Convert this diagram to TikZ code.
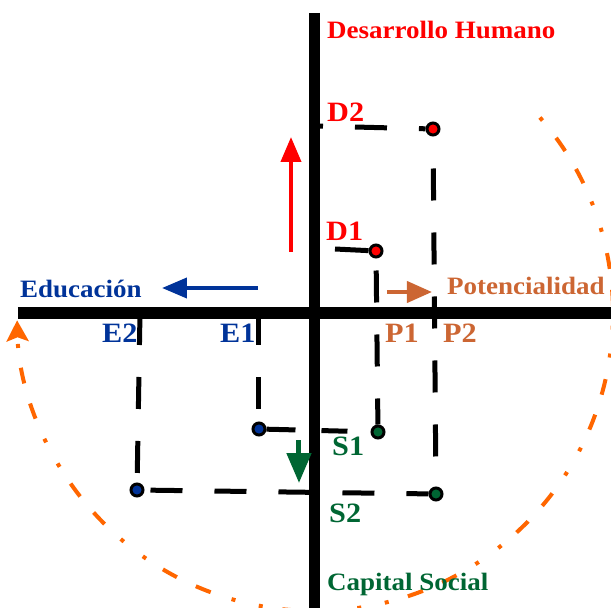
\documentclass[tikz,border=0pt]{standalone}
\usepackage{fontspec}
\setmainfont{Liberation Serif}[FakeStretch=1.08]
\usetikzlibrary{arrows.meta}
\definecolor{rojo}{RGB}{255,0,0}
\definecolor{azul}{RGB}{0,51,153}
\definecolor{verde}{RGB}{0,102,51}
\definecolor{cobre}{RGB}{204,102,51}
\definecolor{naranja}{RGB}{255,102,0}
\begin{document}
\begin{tikzpicture}
[
x=1pt, y=1pt,
eje/.style={line width=11pt},
guia/.style={line width=5pt, dash pattern=on 32pt off 32pt},
tramo/.style={line width=5pt},
punto/.style={circle, draw=black, line width=3pt, minimum size=12pt, inner sep=0pt},
etiq/.style={anchor=base west, inner sep=0pt, font=\bfseries\fontsize{28}{30}\selectfont},
titulo/.style={anchor=base west, inner sep=0pt, font=\bfseries\fontsize{25}{28}\selectfont},
flecha/.style={line width=4pt, -{Triangle[width=20pt,length=25pt]}},
arco/.style={naranja, line width=4pt,
  dash pattern=on 16pt off 21pt on 16pt off 20pt on 4pt off 24pt on 4pt off 22pt,
  dash phase=101pt,
  -{Stealth[width=22pt,length=21pt,inset=4pt]}},
]
\useasboundingbox (-315,-295) rectangle (296,313);

\coordinate (ytop) at (0,300);
\coordinate (ybot) at (0,-295);
\coordinate (xizq) at (-297,0);
\coordinate (xder) at (296,0);

\node (d2) [punto, fill=rojo]  at (118,184)   {};
\node (d1) [punto, fill=rojo]  at (61,62)     {};
\node (s1) [punto, fill=verde] at (63,-119)   {};
\node (s2) [punto, fill=verde] at (121,-181)  {};
\node (e1) [punto, fill=azul]  at (-56,-116)  {};
\node (e2) [punto, fill=azul]  at (-178,-177) {};

\coordinate (pd2) at (0,187);
\coordinate (pd1) at (20,64);
\coordinate (pe1) at (-56,0);
\coordinate (pe2) at (-175,0);

\draw [guia]                  (pe2) -- (e2);
\draw [guia]                  (pe1) -- (e1);
\draw [guia, dash phase=58pt] (e2)  -- (s2);
\draw [guia, dash phase=24pt] (pd2) -- (d2);
\draw [guia, dash phase=32pt] (d2)  -- (s2);
\draw [guia, dash phase=52pt] (d1)  -- (s1);
\draw [tramo]                 (pd1) -- (d1);
\draw [tramo, dash pattern=on 29pt off 26pt on 26pt off 60pt] (e1) -- (s1);

\draw [eje] (ytop) -- (ybot);
\draw [eje] (xizq) -- (xder);

\coordinate (r0) at (-24,61);
\coordinate (r1) at (-24,176);
\coordinate (b0) at (-57,25);
\coordinate (b1) at (-153,25);
\coordinate (c0) at (72,21);
\coordinate (c1) at (117,21);
\coordinate (v0) at (-16,-127);
\coordinate (v1) at (-16,-170);
\draw [flecha, rojo]  (r0) -- (r1);
\draw [flecha, azul]  (b0) -- (b1);
\draw [flecha, cobre, -{Triangle[width=21pt,length=25pt]}] (c0) -- (c1);
\draw [flecha, verde, line width=5pt, -{Triangle[width=24pt,length=30pt]}] (v0) -- (v1);

\coordinate (aini) at (41:298pt);
\draw [arco] (aini) arc [start angle=41, end angle=-178.6, radius=298pt];

\node (tdh) [titulo, text=rojo]  at (12,274)  {Desarrollo Humano};
\node (tcs) [titulo, text=verde] at (12,-277) {Capital Social};
\node (ted) [titulo, text=azul] at (-295,16) {Educación};
\node (tpo) [titulo, text=cobre] at (132,18)  {Potencialidad};
\node (ld2) [etiq, text=rojo]  at (12,191)   {D2};
\node (ld1) [etiq, text=rojo]  at (11,72)    {D1};
\node (le2) [etiq, text=azul]  at (-213,-30) {E2};
\node (le1) [etiq, text=azul]  at (-95,-30)  {E1};
\node (lp1) [etiq, text=cobre] at (70,-29)   {P1};
\node (lp2) [etiq, text=cobre] at (128,-29)  {P2};
\node (ls1) [etiq, text=verde] at (17,-142)  {S1};
\node (ls2) [etiq, text=verde] at (14,-209)  {S2};
\end{tikzpicture}
\end{document}
